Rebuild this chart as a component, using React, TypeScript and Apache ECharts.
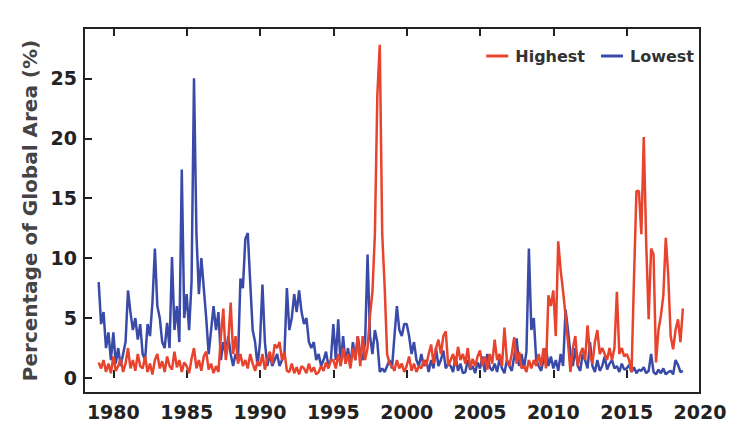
import React, { useEffect, useRef } from "react";
import * as echarts from "echarts";

// Samples every 2 months starting Jan 1979
const START_YEAR = 1979;
const STEP = 1 / 6;

const highest: number[] = [
  // 1979
  1.3, 0.8, 1.5, 0.5, 1.2, 0.4,
  // 1980
  1.8, 0.6, 1.0, 1.6, 0.5, 1.2,
  // 1981
  2.5, 0.8, 1.5, 0.6, 2.0, 1.0,
  // 1982
  0.8, 1.8, 0.5, 1.2, 0.3, 1.5,
  // 1983
  2.0, 0.8, 1.4, 0.5, 1.8, 1.0,
  // 1984
  0.7, 2.2, 0.9, 1.5, 0.5, 1.3,
  // 1985
  1.0, 0.4, 1.6, 2.5, 0.8, 1.5,
  // 1986
  0.6, 1.8, 2.2, 0.7, 1.2, 0.4,
  // 1987
  1.0, 0.5, 3.5, 5.8, 1.5, 3.0,
  // 1988
  6.3, 2.0, 3.5, 1.2, 2.0, 1.0,
  // 1989
  1.5, 0.8, 2.0, 1.2, 0.6, 1.4,
  // 1990
  1.0, 2.0, 0.7, 1.6, 2.2, 1.2,
  // 1991
  2.8, 2.5, 3.0, 1.5, 2.2, 0.6,
  // 1992
  0.5, 1.2, 0.4, 0.9, 0.3, 1.0,
  // 1993
  0.8, 0.4, 1.2, 0.5, 0.9, 0.3,
  // 1994
  0.5, 1.0, 0.6, 1.3, 0.8, 1.5,
  // 1995
  1.5, 0.8, 2.0, 1.0, 2.5, 1.2,
  // 1996
  2.0, 0.8, 2.5, 1.5, 3.5, 1.0,
  // 1997
  3.5, 1.5, 2.5, 5.2, 7.2, 12.0,
  // 1998
  23.6, 27.8, 12.0, 7.6, 2.0, 1.2,
  // 1999
  1.0, 0.6, 1.5, 0.8, 1.2, 0.5,
  // 2000
  1.0, 1.8, 0.6, 1.2, 0.5, 1.0,
  // 2001
  0.8, 1.5, 1.0, 2.0, 2.8, 1.2,
  // 2002
  2.5, 3.2, 2.0, 3.5, 3.9, 1.0,
  // 2003
  1.5, 2.0, 1.0, 2.6, 1.5, 2.0,
  // 2004
  1.2, 2.5, 0.8, 1.6, 1.0, 1.8,
  // 2005
  2.3, 1.0, 1.8, 0.7, 2.0, 1.2,
  // 2006
  3.2, 1.5, 2.0, 1.0, 4.2, 1.5,
  // 2007
  1.0, 2.0, 3.4, 1.2, 2.2, 0.8,
  // 2008
  1.0, 0.5, 1.5, 0.8, 1.5, 1.0,
  // 2009
  2.0, 1.0, 2.5, 0.8, 6.9, 6.0,
  // 2010
  7.3, 3.5, 11.4, 9.0, 7.2, 5.2,
  // 2011
  3.0, 0.5, 2.5, 3.5, 1.0, 2.0,
  // 2012
  2.5, 1.5, 4.4, 2.0, 1.2, 3.0,
  // 2013
  4.0, 2.0, 2.5, 2.0, 1.5, 2.5,
  // 2014
  1.5, 2.5, 7.2, 2.0, 2.5, 1.8,
  // 2015
  2.0, 1.5, 0.5, 8.3, 15.6, 15.6,
  // 2016
  12.0, 20.1, 11.2, 4.9, 10.8, 10.3,
  // 2017
  1.3, 4.0, 5.2, 6.9, 11.7, 8.6,
  // 2018
  3.5, 2.4, 4.0, 4.9, 3.0, 5.8,
];

const lowest: number[] = [
  // 1979
  8.0, 4.5, 5.5, 2.5, 3.8, 1.5,
  // 1980
  3.8, 1.2, 2.5, 1.0, 2.0, 3.0,
  // 1981
  7.3, 5.5, 4.0, 5.0, 3.2, 4.5,
  // 1982
  2.0, 1.5, 4.5, 3.5, 6.3, 10.8,
  // 1983
  6.0, 5.0, 3.0, 2.5, 4.6, 2.5,
  // 1984
  10.1, 4.0, 6.0, 3.0, 17.4, 5.0,
  // 1985
  7.0, 4.0, 8.0, 25.0, 12.0, 7.0,
  // 1986
  10.0, 7.5, 5.0, 2.0, 4.0, 6.0,
  // 1987
  4.0, 5.5, 1.5, 3.0, 2.0, 3.5,
  // 1988
  2.0, 1.0, 2.0, 1.5, 8.3, 7.5,
  // 1989
  11.6, 12.1, 8.0, 4.0, 3.0, 1.0,
  // 1990
  3.0, 7.8, 3.0, 1.0, 2.0, 1.0,
  // 1991
  1.5, 2.0, 1.0, 1.5, 2.0, 7.5,
  // 1992
  4.0, 5.0, 7.0, 5.5, 7.3, 5.5,
  // 1993
  4.5, 5.0, 3.0, 2.5, 3.0, 1.5,
  // 1994
  2.0, 1.0, 1.5, 2.2, 1.0, 1.5,
  // 1995
  4.5, 1.5, 4.9, 1.0, 3.5, 1.2,
  // 1996
  2.5, 1.0, 3.0, 1.5, 3.5, 2.0,
  // 1997
  1.5, 3.0, 10.3, 3.5, 2.0, 4.0,
  // 1998
  3.0, 0.5, 0.8, 0.5, 1.0, 1.5,
  // 1999
  0.8, 3.5, 6.0, 4.0, 3.5, 4.5,
  // 2000
  4.5, 3.5, 2.0, 3.0, 1.5, 1.0,
  // 2001
  2.0, 1.0, 1.5, 0.5, 1.5, 0.8,
  // 2002
  2.5, 1.0, 1.5, 2.3, 0.8, 1.2,
  // 2003
  1.0, 0.5, 1.8, 0.6, 1.2, 0.4,
  // 2004
  0.5, 1.5, 0.7, 1.0, 0.4, 1.3,
  // 2005
  0.8, 1.8, 0.5, 2.0, 0.9, 0.6,
  // 2006
  1.2, 0.5, 1.6, 0.8, 0.4, 1.5,
  // 2007
  1.0, 0.6, 1.8, 3.3, 1.0, 2.0,
  // 2008
  0.8, 2.2, 10.8, 4.0, 5.0, 1.5,
  // 2009
  1.0, 0.6, 1.5, 2.5, 1.0, 1.8,
  // 2010
  0.8, 1.5, 0.6, 2.0, 1.0, 5.7,
  // 2011
  4.0, 2.0, 1.0, 2.5, 1.0, 0.6,
  // 2012
  2.0, 1.5, 0.8, 3.0, 1.0, 0.5,
  // 2013
  1.5, 0.6, 1.0, 1.8, 0.7, 1.2,
  // 2014
  1.5, 0.8, 1.0, 0.5, 1.2, 0.7,
  // 2015
  0.8, 1.1, 0.5, 0.9, 0.4, 0.7,
  // 2016
  0.6, 0.9, 0.4, 0.6, 2.0, 0.5,
  // 2017
  0.3, 0.7, 0.4, 0.8, 0.3, 0.5,
  // 2018
  0.6, 0.3, 1.5, 1.1, 0.5, 0.6,
];

const xTicks = [1980, 1985, 1990, 1995, 2000, 2005, 2010, 2015, 2020];
const yTicks = [0, 5, 10, 15, 20, 25];
const seriesNames = ["Highest", "Lowest"];
const yTitle = "Percentage of Global Area (%)";

const RED = "#e8432c";
const BLUE = "#3a4aa8";
const FONT = "DejaVu Sans";

function toPairs(values: number[]): [number, number][] {
  return values.map((v, i) => [START_YEAR + i * STEP, v]);
}

export default function App() {
  const ref = useRef<HTMLDivElement>(null);

  useEffect(() => {
    if (!ref.current) return;
    const chart = echarts.init(ref.current, null, { renderer: "svg" });
    const tickStyle = { show: true, inside: true, length: 8, lineStyle: { color: "#222", width: 2 } };
    chart.setOption({
      animation: false,
      backgroundColor: "#ffffff",
      grid: {
        left: 84,
        top: 28,
        right: 50,
        bottom: 50,
        show: true,
        borderColor: "#222",
        borderWidth: 2,
        containLabel: false,
      },
      legend: {
        data: seriesNames,
        right: 51,
        top: 43,
        icon: "rect",
        itemWidth: 22,
        itemHeight: 3,
        itemGap: 16,
        textStyle: { fontFamily: FONT, fontWeight: "bold", fontSize: 16, color: "#333", padding: [0, 0, 0, 2] },
      },
      xAxis: [
        {
          type: "value",
          min: 1978,
          max: 2020,
          axisLine: { show: false },
          axisTick: { ...tickStyle, customValues: xTicks },
          axisLabel: {
            customValues: xTicks,
            formatter: (v: number) => String(v),
            margin: 9,
            fontFamily: FONT,
            fontWeight: "bold",
            fontSize: 19,
            color: "#222",
          },
          splitLine: { show: false },
        },
        {
          type: "value",
          position: "top",
          min: 1978,
          max: 2020,
          axisLine: { show: false },
          axisTick: { ...tickStyle, customValues: xTicks },
          axisLabel: { show: false },
          splitLine: { show: false },
        },
      ],
      yAxis: {
        type: "value",
        min: -1.25,
        max: 29.2,
        axisLine: { show: false },
        axisTick: { ...tickStyle, customValues: yTicks },
        axisLabel: {
          customValues: yTicks,
          formatter: (v: number) => String(v),
          margin: 7,
          fontFamily: FONT,
          fontWeight: "bold",
          fontSize: 19,
          color: "#222",
        },
        splitLine: { show: false },
        name: yTitle,
        nameLocation: "middle",
        nameRotate: 90,
        nameGap: 35,
        nameTextStyle: { fontFamily: FONT, fontWeight: "bold", fontSize: 20, color: "#444" },
      },
      series: [
        {
          name: "Lowest",
          type: "line",
          data: toPairs(lowest),
          showSymbol: false,
          lineStyle: { color: BLUE, width: 2.5 },
          itemStyle: { color: BLUE },
          z: 2,
        },
        {
          name: "Highest",
          type: "line",
          data: toPairs(highest),
          showSymbol: false,
          lineStyle: { color: RED, width: 2.5 },
          itemStyle: { color: RED },
          z: 3,
        },
      ],
    });
    return () => chart.dispose();
  }, []);

  return (
    <div
      ref={ref}
      style={{ position: "fixed", left: 0, top: 0, width: 750, height: 443 }}
    />
  );
}
